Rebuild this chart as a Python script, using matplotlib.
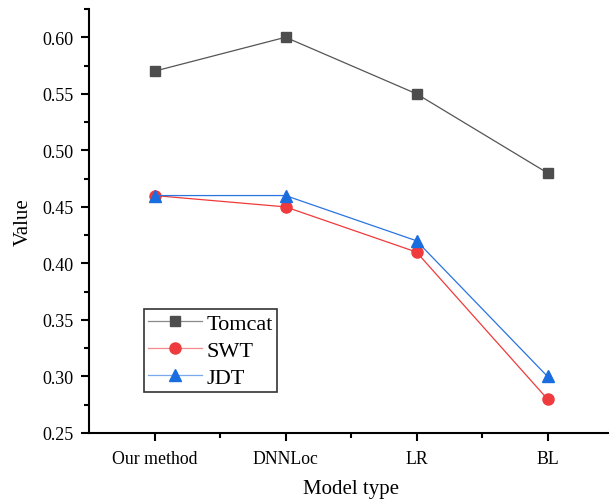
import matplotlib
matplotlib.use("Agg")
import matplotlib.pyplot as plt
from matplotlib.ticker import MultipleLocator, FixedLocator

categories = ["Our method", "DNNLoc", "LR", "BL"]
tomcat = [0.57, 0.60, 0.55, 0.48]
swt = [0.46, 0.45, 0.41, 0.28]
jdt = [0.46, 0.46, 0.42, 0.30]

plt.rcParams['font.family'] = ['Liberation Serif', 'DejaVu Serif']

fig = plt.figure(figsize=(6.09, 5.02), dpi=100)
W, H = 609, 502
left, right, top, bottom = 89, 613, 10, 434
ax = fig.add_axes([left / W, 1 - bottom / H, (right - left) / W, (bottom - top) / H])

x = list(range(len(categories)))
ax.plot(x, tomcat, color='#555555', lw=0.9, marker='s', ms=7, mfc='#4d4d4d', mec='#4d4d4d', label='Tomcat')
ax.plot(x, swt, color='#f03a3a', lw=0.9, marker='o', ms=8, mfc='#ef3b3d', mec='#ef3b3d', label='SWT')
ax.plot(x, jdt, color='#2a74e0', lw=0.9, marker='^', ms=9, mfc='#1a6ddf', mec='#1a6ddf', label='JDT')

ax.set_xlim(-0.5, 3.5)
ax.set_ylim(0.25, 0.625)
ax.set_xticks(x)
ax.set_xticklabels(categories, fontsize=12.8)
ax.xaxis.set_minor_locator(FixedLocator([0.5, 1.5, 2.5]))
yt = [0.25, 0.30, 0.35, 0.40, 0.45, 0.50, 0.55, 0.60]
ax.set_yticks(yt)
ax.set_yticklabels([f"{v:.2f}" for v in yt], fontsize=13)
ax.yaxis.set_minor_locator(MultipleLocator(0.025))

for s in ['top', 'right']:
    ax.spines[s].set_visible(False)
for s in ['left', 'bottom']:
    ax.spines[s].set_linewidth(1.5)
ax.tick_params(which='major', direction='out', length=6, width=1.5, pad=5)
ax.tick_params(which='minor', direction='out', length=3.5, width=1.5)
ax.tick_params(axis='x', which='major', pad=6)

ax.set_xlabel("Model type", fontsize=15, labelpad=9)
ax.set_ylabel("Value", fontsize=15, labelpad=7)

leg = ax.legend(loc='upper left', bbox_to_anchor=(0.105, 0.292), fontsize=16,
                frameon=True, fancybox=False, edgecolor='#333333', framealpha=1,
                handlelength=2.4, handletextpad=0.2, borderpad=0.2, labelspacing=0.28,
                borderaxespad=0)
leg.get_frame().set_linewidth(1.2)
for line, c in zip(leg.get_lines(), ['#8a8a8a', '#f58a8a', '#7aa8ee']):
    line.set_color(c)

fig.savefig("out.png", dpi=100)
